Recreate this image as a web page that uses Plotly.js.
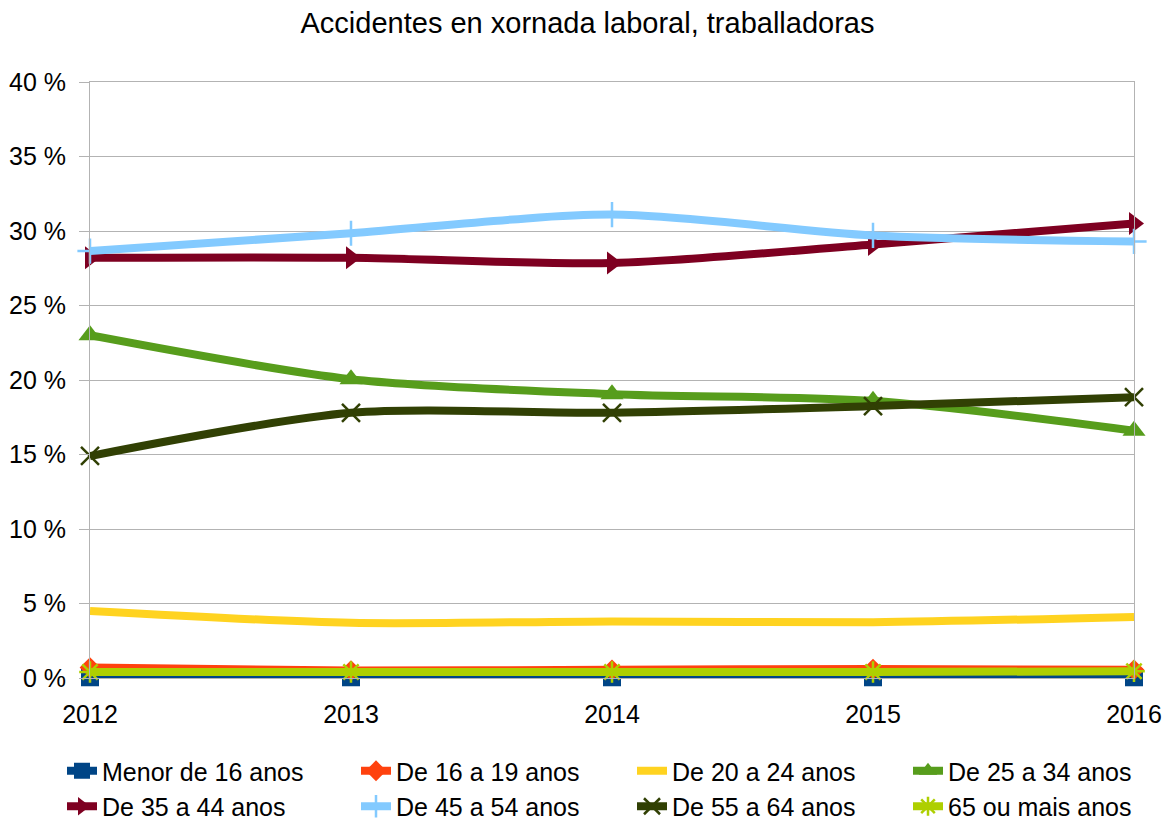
<!DOCTYPE html>
<html>
<head>
<meta charset="utf-8">
<script src="https://cdn.plot.ly/plotly-3.0.1.min.js"></script>
<style>html,body{margin:0;padding:0;background:#fff;}#chart{width:1175px;height:823px;}</style>
</head>
<body>
<div id="chart"></div>
<script>
var years = [2012, 2013, 2014, 2015, 2016];
var seriesNames = ["Menor de 16 anos", "De 16 a 19 anos", "De 20 a 24 anos", "De 25 a 34 anos",
                   "De 35 a 44 anos", "De 45 a 54 anos", "De 55 a 64 anos", "65 ou mais anos"];
var menor16 = [0.05, 0.05, 0.05, 0.05, 0.05];
var de16a19 = [0.7, 0.5, 0.55, 0.6, 0.55];
var de20a24 = [4.5, 3.7, 3.8, 3.75, 4.1];
var de25a34 = [23.0, 20.05, 19.05, 18.6, 16.6];
var de35a44 = [28.2, 28.2, 27.85, 29.1, 30.5];
var de45a54 = [28.65, 29.85, 31.1, 29.7, 29.3];
var de55a64 = [14.9, 17.8, 17.8, 18.25, 18.85];
var de65mais = [0.4, 0.4, 0.4, 0.4, 0.45];
var yTicks = [0, 5, 10, 15, 20, 25, 30, 35, 40];
var yTickLabels = ["0 %", "5 %", "10 %", "15 %", "20 %", "25 %", "30 %", "35 %", "40 %"];

var values = [menor16, de16a19, de20a24, de25a34, de35a44, de45a54, de55a64, de65mais];
var colors = ["#004586", "#ff420e", "#ffd320", "#579d1c", "#7e0021", "#83caff", "#314004", "#aecf00"];
var symbols = ["square", "diamond", "circle", "triangle-up", "triangle-right", "cross-thin", "x-thin", "asterisk"];
var sizes = [18, 16, 0, 20, 20, 18, 18, 18];
var legendIds = ["legend", "legend2", "legend3", "legend4", "legend", "legend2", "legend3", "legend4"];

var traces = values.map(function (v, i) {
  var thin = symbols[i].indexOf("thin") >= 0 || symbols[i] === "asterisk";
  return {
    x: years, y: v, name: seriesNames[i], type: "scatter",
    mode: sizes[i] > 0 ? "lines+markers" : "lines",
    legend: legendIds[i],
    line: {color: colors[i], width: 8, shape: "spline", smoothing: 0.8},
    marker: {symbol: symbols[i], size: sizes[i], color: colors[i],
             line: {color: colors[i], width: thin ? 2.5 : 0}},
    cliponaxis: false
  };
});

function legendAt(px) {
  return {orientation: "v", xref: "container", yref: "container", x: px / 1175, y: 1 - 748 / 823,
          xanchor: "left", yanchor: "top", font: {size: 25}, itemwidth: 30, tracegroupgap: 0,
          bgcolor: "rgba(0,0,0,0)"};
}

var layout = {
  width: 1175, height: 823,
  margin: {l: 90, r: 41, t: 82, b: 145, autoexpand: false},
  paper_bgcolor: "#ffffff", plot_bgcolor: "#ffffff",
  font: {family: "Liberation Sans, Arial, sans-serif", size: 25, color: "#000"},
  title: {text: "Accidentes en xornada laboral, traballadoras", x: 0.5, xanchor: "center",
          y: 1 - 23/823, yanchor: "middle", font: {size: 29, color: "#000"}},
  xaxis: {range: [2012, 2016], tickvals: years, ticktext: years.map(String),
          showgrid: false, zeroline: false, showline: true, mirror: true,
          linecolor: "#b3b3b3", linewidth: 1, ticks: "", ticklabelstandoff: 14,
          tickangle: 0, automargin: false, tickfont: {size: 25}},
  yaxis: {range: [0, 40], tickvals: yTicks, ticktext: yTickLabels, showgrid: true,
          gridcolor: "#b3b3b3", gridwidth: 1, zeroline: false, showline: true, mirror: true,
          linecolor: "#b3b3b3", ticks: "outside", ticklen: 10, tickcolor: "#b3b3b3",
          ticklabelstandoff: 8, automargin: false, tickfont: {size: 25}},
  showlegend: true,
  legend: legendAt(62),
  legend2: legendAt(356),
  legend3: legendAt(632),
  legend4: legendAt(908)
};

Plotly.newPlot("chart", traces, layout, {displayModeBar: false, staticPlot: true});
</script>
</body>
</html>
